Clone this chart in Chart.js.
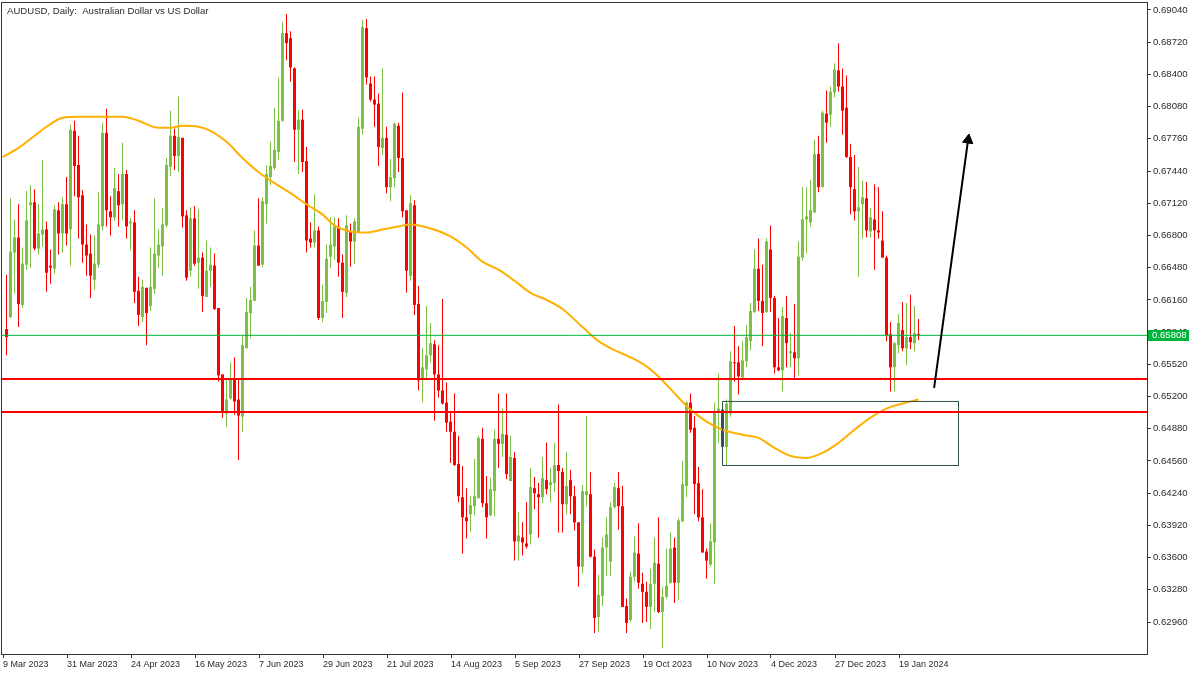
<!DOCTYPE html>
<html lang="en">
<head>
<meta charset="UTF-8">
<title>AUDUSD, Daily</title>
<script src="https://cdn.jsdelivr.net/npm/chart.js"></script>
<style>
  body { margin: 0; background: #ffffff; }
  #chart { display: block; }
</style>
</head>
<body>
<canvas id="chart" width="1200" height="675"></canvas>
<script>
// daily candles, 9 Mar 2023 .. 25 Jan 2024 (one entry per bar)
const opens = [
  0.6587,0.6599,0.6663,0.6678,0.6611,0.6651,0.6710,0.6713,0.6667,0.6681,0.6686,0.6650,
  0.6647,0.6705,0.6682,0.6711,0.6686,0.6784,0.6750,0.6720,0.6671,0.6662,0.6636,0.6651,
  0.6689,0.6782,0.6704,0.6698,0.6724,0.6711,0.6741,0.6692,0.6693,0.6625,0.6599,0.6628,
  0.6610,0.6627,0.6660,0.6669,0.6690,0.6748,0.6779,0.6759,0.6777,0.6700,0.6645,0.6697,
  0.6653,0.6658,0.6619,0.6645,0.6650,0.6608,0.6542,0.6503,0.6518,0.6538,0.6517,0.6500,
  0.6568,0.6603,0.6615,0.6670,0.6651,0.6711,0.6738,0.6747,0.6763,0.6794,0.6881,0.6876,
  0.6846,0.6785,0.6795,0.6754,0.6677,0.6673,0.6685,0.6598,0.6614,0.6659,0.6669,0.6689,
  0.6653,0.6623,0.6684,0.6674,0.6683,0.6786,0.6886,0.6831,0.6815,0.6811,0.6767,0.6777,
  0.6728,0.6737,0.6789,0.6757,0.6705,0.6640,0.6710,0.6612,0.6537,0.6547,0.6561,0.6572,
  0.6542,0.6526,0.6514,0.6495,0.6485,0.6453,0.6420,0.6400,0.6403,0.6411,0.6419,0.6478,
  0.6414,0.6402,0.6426,0.6478,0.6473,0.6482,0.6436,0.6459,0.6376,0.6380,0.6374,0.6383,
  0.6429,0.6423,0.6420,0.6437,0.6432,0.6434,0.6452,0.6445,0.6413,0.6437,0.6421,0.6395,
  0.6351,0.6422,0.6423,0.6361,0.6301,0.6322,0.6370,0.6356,0.6410,0.6429,0.6411,0.6312,
  0.6298,0.6341,0.6364,0.6334,0.6326,0.6311,0.6334,0.6354,0.6306,0.6321,0.6335,0.6370,
  0.6335,0.6396,0.6431,0.6514,0.6489,0.6434,0.6400,0.6366,0.6353,0.6375,0.6505,0.6507,
  0.6470,0.6503,0.6554,0.6554,0.6539,0.6555,0.6575,0.6604,0.6647,0.6615,0.6604,0.6666,
  0.6618,0.6549,0.6546,0.6598,0.6563,0.6564,0.6558,0.6658,0.6696,0.6693,0.6703,0.6761,
  0.6728,0.6801,0.6800,0.6822,0.6844,0.6828,0.6807,0.6758,0.6726,0.6704,0.6711,0.6717,
  0.6684,0.6696,0.6685,0.6675,0.6658,0.6582,0.6549,0.6571,0.6586,0.6568,0.6579,0.6573,0.6582
];
const highs = [
  0.6641,0.6717,0.6696,0.6711,0.6668,0.6724,0.6730,0.6726,0.6711,0.6755,0.6694,0.6666,
  0.6710,0.6713,0.6718,0.6738,0.6790,0.6794,0.6779,0.6725,0.6691,0.6681,0.6680,0.6723,
  0.6792,0.6806,0.6719,0.6747,0.6741,0.6772,0.6745,0.6697,0.6705,0.6639,0.6636,0.6628,
  0.6668,0.6717,0.6686,0.6707,0.6757,0.6804,0.6786,0.6818,0.6777,0.6705,0.6708,0.6709,
  0.6706,0.6663,0.6675,0.6668,0.6662,0.6608,0.6542,0.6538,0.6554,0.6559,0.6538,0.6581,
  0.6618,0.6629,0.6685,0.6717,0.6718,0.6750,0.6773,0.6807,0.6837,0.6892,0.6900,0.6883,
  0.6847,0.6805,0.6805,0.6768,0.6693,0.6721,0.6689,0.6631,0.6671,0.6698,0.6698,0.6697,
  0.6661,0.6700,0.6692,0.6697,0.6797,0.6894,0.6895,0.6838,0.6838,0.6821,0.6846,0.6788,
  0.6756,0.6792,0.6792,0.6822,0.6705,0.6720,0.6715,0.6630,0.6568,0.6610,0.6593,0.6576,
  0.6571,0.6617,0.6534,0.6504,0.6523,0.6481,0.6451,0.6429,0.6421,0.6458,0.6481,0.6489,
  0.6441,0.6439,0.6487,0.6523,0.6508,0.6523,0.6481,0.6465,0.6405,0.6395,0.6415,0.6449,
  0.6440,0.6434,0.6460,0.6474,0.6449,0.6474,0.6512,0.6449,0.6465,0.6447,0.6431,0.6395,
  0.6432,0.6501,0.6445,0.6368,0.6343,0.6380,0.6400,0.6415,0.6434,0.6445,0.6431,0.6319,
  0.6346,0.6381,0.6394,0.6345,0.6336,0.6349,0.6380,0.6400,0.6331,0.6369,0.6385,0.6380,
  0.6399,0.6456,0.6515,0.6523,0.6501,0.6450,0.6428,0.6369,0.6394,0.6514,0.6543,0.6514,
  0.6517,0.6565,0.6590,0.6570,0.6575,0.6591,0.6613,0.6666,0.6677,0.6651,0.6677,0.6690,
  0.6620,0.6598,0.6609,0.6620,0.6583,0.6612,0.6674,0.6728,0.6728,0.6735,0.6775,0.6779,
  0.6804,0.6824,0.6828,0.6851,0.6871,0.6846,0.6839,0.6771,0.6760,0.6748,0.6734,0.6733,
  0.6707,0.6731,0.6728,0.6704,0.6660,0.6594,0.6574,0.6602,0.6614,0.6613,0.6621,0.6610,0.6597
];
const lows = [
  0.6561,0.6598,0.6622,0.6589,0.6608,0.6646,0.6648,0.6665,0.6661,0.6669,0.6624,0.6632,
  0.6642,0.6661,0.6663,0.6670,0.6650,0.6719,0.6677,0.6653,0.6640,0.6618,0.6626,0.6648,
  0.6685,0.6689,0.6680,0.6695,0.6689,0.6695,0.6677,0.6665,0.6613,0.6590,0.6594,0.6571,
  0.6605,0.6622,0.6648,0.6640,0.6688,0.6739,0.6745,0.6743,0.6688,0.6635,0.6639,0.6650,
  0.6627,0.6604,0.6619,0.6629,0.6606,0.6535,0.6499,0.6490,0.6517,0.6502,0.6457,0.6485,
  0.6568,0.6578,0.6615,0.6650,0.6649,0.6692,0.6730,0.6745,0.6755,0.6793,0.6854,0.6833,
  0.6753,0.6741,0.6743,0.6663,0.6668,0.6668,0.6596,0.6594,0.6603,0.6648,0.6656,0.6639,
  0.6598,0.6619,0.6649,0.6652,0.6683,0.6780,0.6830,0.6813,0.6788,0.6749,0.6760,0.6722,
  0.6714,0.6728,0.6743,0.6698,0.6623,0.6635,0.6601,0.6526,0.6514,0.6538,0.6554,0.6496,
  0.6519,0.6512,0.6485,0.6454,0.6451,0.6415,0.6364,0.6379,0.6386,0.6402,0.6419,0.6410,
  0.6379,0.6401,0.6401,0.6449,0.6460,0.6438,0.6436,0.6357,0.6357,0.6362,0.6369,0.6373,
  0.6408,0.6380,0.6414,0.6423,0.6415,0.6425,0.6385,0.6385,0.6403,0.6403,0.6387,0.6331,
  0.6344,0.6411,0.6360,0.6285,0.6286,0.6312,0.6342,0.6342,0.6409,0.6388,0.6311,0.6285,
  0.6296,0.6336,0.6329,0.6295,0.6296,0.6289,0.6306,0.6305,0.6270,0.6319,0.6334,0.6315,
  0.6318,0.6395,0.6420,0.6484,0.6403,0.6396,0.6365,0.6339,0.6351,0.6334,0.6474,0.6469,
  0.6452,0.6500,0.6535,0.6522,0.6538,0.6549,0.6566,0.6603,0.6605,0.6570,0.6603,0.6604,
  0.6543,0.6545,0.6525,0.6549,0.6549,0.6538,0.6541,0.6655,0.6662,0.6689,0.6702,0.6723,
  0.6728,0.6772,0.6788,0.6817,0.6823,0.6780,0.6757,0.6701,0.6695,0.6639,0.6677,0.6678,
  0.6678,0.6646,0.6677,0.6658,0.6575,0.6525,0.6525,0.6563,0.6565,0.6551,0.6567,0.6565,0.6576
];
const closes = [
  0.6579,0.6664,0.6678,0.6612,0.6652,0.6695,0.6713,0.6667,0.6682,0.6686,0.6643,0.6648,
  0.6706,0.6682,0.6711,0.6682,0.6785,0.6749,0.6718,0.6671,0.6660,0.6640,0.6652,0.6691,
  0.6782,0.6705,0.6698,0.6727,0.6710,0.6741,0.6689,0.6694,0.6624,0.6601,0.6629,0.6603,
  0.6629,0.6662,0.6671,0.6691,0.6750,0.6779,0.6759,0.6778,0.6699,0.6638,0.6697,0.6652,
  0.6658,0.6620,0.6645,0.6651,0.6607,0.6541,0.6504,0.6517,0.6538,0.6515,0.6501,0.6571,
  0.6604,0.6616,0.6670,0.6650,0.6714,0.6741,0.6749,0.6765,0.6794,0.6881,0.6871,0.6847,
  0.6785,0.6795,0.6753,0.6675,0.6673,0.6685,0.6598,0.6615,0.6657,0.6671,0.6689,0.6653,
  0.6624,0.6690,0.6674,0.6694,0.6788,0.6887,0.6837,0.6815,0.6810,0.6768,0.6777,0.6728,
  0.6738,0.6791,0.6757,0.6704,0.6645,0.6712,0.6611,0.6536,0.6549,0.6561,0.6573,0.6542,
  0.6526,0.6513,0.6494,0.6485,0.6452,0.6421,0.6400,0.6396,0.6412,0.6421,0.6479,0.6414,
  0.6400,0.6428,0.6478,0.6473,0.6483,0.6443,0.6460,0.6376,0.6382,0.6375,0.6371,0.6430,
  0.6424,0.6420,0.6439,0.6428,0.6435,0.6452,0.6446,0.6413,0.6431,0.6421,0.6395,0.6351,
  0.6426,0.6426,0.6361,0.6300,0.6323,0.6370,0.6383,0.6410,0.6430,0.6411,0.6311,0.6295,
  0.6341,0.6365,0.6335,0.6326,0.6311,0.6334,0.6355,0.6306,0.6321,0.6332,0.6369,0.6335,
  0.6397,0.6433,0.6514,0.6487,0.6433,0.6400,0.6365,0.6357,0.6376,0.6506,0.6508,0.6470,
  0.6513,0.6555,0.6553,0.6540,0.6556,0.6579,0.6605,0.6647,0.6615,0.6603,0.6674,0.6618,
  0.6549,0.6546,0.6600,0.6573,0.6565,0.6558,0.6659,0.6696,0.6699,0.6705,0.6761,0.6728,
  0.6802,0.6792,0.6823,0.6845,0.6828,0.6804,0.6758,0.6728,0.6704,0.6708,0.6718,0.6685,
  0.6698,0.6685,0.6683,0.6658,0.6581,0.6549,0.6573,0.6593,0.6568,0.6579,0.6574,0.6583,0.65808
];

// moving average at these bars
const maBars = [-1,0,3,7,10,14,18,24,29,33,38,41,44,48,51,55,59,63,67,71,75,79,82,86,90,94,98,101,106,111,115,
  119,123,127,131,135,139,144,148,152,156,160,164,168,171,175,179,184,188,192,196,200,204,208,212,216,220,224,228];
const maValues = [0.6758,0.6760,0.6767,0.6779,0.6788,0.6797,0.6798,0.6798,0.6798,0.6794,0.6787,0.6787,0.6789,0.6788,0.6784,
  0.6773,0.6757,0.6743,0.6732,0.6722,0.6711,0.6701,0.6690,0.6684,0.6683,0.6686,0.6689,0.6691,0.6687,0.6679,0.6668,
  0.6654,0.6646,0.6635,0.6623,0.6616,0.6607,0.6589,0.6575,0.6566,0.6559,0.6550,0.6536,0.6519,0.6507,0.6495,0.6487,
  0.6482,0.6479,0.6469,0.6461,0.6459,0.6464,0.6474,0.6487,0.6499,0.6508,0.6513,0.6517];

const tickBars = [0,16,32,48,64,80,96,112,128,144,160,176,192,208,224];
const tickLabels = ['9 Mar 2023','31 Mar 2023','24 Apr 2023','16 May 2023','7 Jun 2023','29 Jun 2023','21 Jul 2023',
  '14 Aug 2023','5 Sep 2023','27 Sep 2023','19 Oct 2023','10 Nov 2023','4 Dec 2023','27 Dec 2023','19 Jan 2024'];
const priceTicks = [0.62960,0.63280,0.63600,0.63920,0.64240,0.64560,0.64880,0.65200,0.65520,0.65840,
  0.66160,0.66480,0.66800,0.67120,0.67440,0.67760,0.68080,0.68400,0.68720,0.69040];

const levels = [0.65374, 0.65046];
const lastPrice = 0.65808;
const zone = { from: 179, to: 238, top: 0.65151, bottom: 0.64515 };
const arrow = { fromBar: 231.9, fromPrice: 0.65285, toBar: 240.4, toPrice: 0.67749 };

const X_MIN = -1.125, X_MAX = 285.125;
const Y_MIN = 0.626422, Y_MAX = 0.691095;
const UP = '#7cc143', DOWN = '#ff0000', TEXT = '#2a2a30', FRAME = '#35353d';

const candleColors = closes.map((c, i) => c >= opens[i] ? UP : DOWN);

Chart.defaults.font.family = "'Liberation Sans', Arial, sans-serif";
Chart.defaults.color = TEXT;

const framePlugin = {
  id: 'frame',
  afterDraw(chart) {
    const { ctx, chartArea: a, scales } = chart;
    ctx.save();
    ctx.strokeStyle = FRAME;
    ctx.lineWidth = 1;
    ctx.strokeRect(a.left - 0.5, a.top - 0.5, a.right - a.left + 1, a.bottom - a.top + 1);

    // current price tag on the price scale
    const py = Math.round(scales.y.getPixelForValue(lastPrice));
    ctx.fillStyle = '#00b43c';
    ctx.fillRect(a.right + 1, py - 5, 41, 11);
    ctx.fillStyle = '#ffffff';
    ctx.font = "9.6px 'Liberation Sans', Arial, sans-serif";
    ctx.textBaseline = 'middle';
    ctx.fillText(lastPrice.toFixed(5), a.right + 5, py + 0.5);

    // symbol caption
    ctx.fillStyle = TEXT;
    ctx.textBaseline = 'alphabetic';
    ctx.fillText('AUDUSD, Daily:  Australian Dollar vs US Dollar', 7, 14);
    ctx.restore();
  }
};

const hLine = (price, color, width) => ({
  type: 'line',
  data: [{ x: X_MIN, y: price }, { x: X_MAX, y: price }],
  borderColor: color, borderWidth: width, pointRadius: 0, order: 1
});

new Chart(document.getElementById('chart'), {
  type: 'bar',
  data: {
    datasets: [
      {
        label: 'wicks',
        data: highs.map((h, i) => ({ x: i, y: [lows[i], h] })),
        backgroundColor: candleColors,
        barThickness: 1, grouped: false, borderWidth: 0, inflateAmount: 0, order: 10
      },
      {
        label: 'bodies',
        data: opens.map((o, i) => ({ x: i, y: [Math.min(o, closes[i]), Math.max(o, closes[i])] })),
        backgroundColor: candleColors,
        barThickness: 3, minBarLength: 1, grouped: false, borderWidth: 0, inflateAmount: 0, order: 9
      },
      hLine(levels[0], '#ff0000', 2),
      hLine(levels[1], '#ff0000', 2),
      hLine(lastPrice, '#00b43c', 1),
      {
        type: 'line',
        label: 'MA',
        data: maBars.map((b, k) => ({ x: b, y: maValues[k] })),
        borderColor: '#ffb000', borderWidth: 2, pointRadius: 0,
        cubicInterpolationMode: 'monotone', order: 2
      },
      {
        type: 'line',
        label: 'zone',
        data: [
          { x: zone.from, y: zone.top }, { x: zone.to, y: zone.top },
          { x: zone.to, y: zone.bottom }, { x: zone.from, y: zone.bottom },
          { x: zone.from, y: zone.top }
        ],
        borderColor: '#2f4f4f', borderWidth: 1, pointRadius: 0, tension: 0, order: 1
      },
      {
        type: 'line',
        label: 'arrow',
        data: [{ x: arrow.fromBar, y: arrow.fromPrice }, { x: arrow.toBar, y: arrow.toPrice }],
        borderColor: '#000000', borderWidth: 2,
        pointRadius: [0, 6], pointStyle: 'triangle', pointRotation: 8,
        pointBackgroundColor: '#000000', pointBorderColor: '#000000', pointBorderWidth: 1, order: 0
      }
    ]
  },
  options: {
    responsive: false,
    animation: false,
    devicePixelRatio: 1,
    layout: { autoPadding: false, padding: { left: 2, top: 3, right: 0, bottom: 0 } },
    plugins: { legend: { display: false }, tooltip: { enabled: false } },
    scales: {
      x: {
        type: 'linear', min: X_MIN, max: X_MAX, offset: false,
        afterFit: (s) => { s.height = 21; s.paddingLeft = 0; s.paddingRight = 0; },
        afterBuildTicks: (s) => { s.ticks = tickBars.map(b => ({ value: b - 0.875 })); },
        grid: { drawOnChartArea: false, drawTicks: true, tickLength: 4, color: FRAME, offset: false },
        border: { display: false },
        ticks: {
          align: 'start', maxRotation: 0, minRotation: 0, autoSkip: false, padding: 1,
          font: { size: 9 }, color: TEXT,
          callback: (v, i) => tickLabels[i]
        }
      },
      y: {
        type: 'linear', position: 'right', min: Y_MIN, max: Y_MAX,
        afterFit: (s) => { s.width = 53; s.paddingTop = 0; s.paddingBottom = 0; },
        afterBuildTicks: (s) => { s.ticks = priceTicks.map(v => ({ value: v })); },
        grid: { drawOnChartArea: false, drawTicks: true, tickLength: 4, color: FRAME },
        border: { display: false },
        ticks: {
          padding: 2, font: { size: 9.6 }, color: TEXT,
          callback: (v) => v.toFixed(5)
        }
      }
    }
  },
  plugins: [framePlugin]
});
</script>
</body>
</html>
